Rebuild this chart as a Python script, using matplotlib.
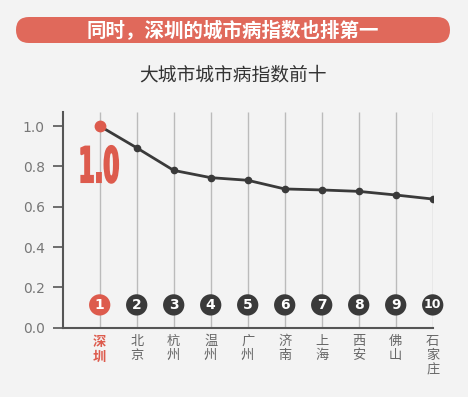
import matplotlib
matplotlib.use('Agg')
import matplotlib.pyplot as plt
from matplotlib.patches import FancyBboxPatch, PathPatch
from matplotlib.textpath import TextPath
from matplotlib.font_manager import FontProperties
from matplotlib.transforms import Affine2D, IdentityTransform

plt.rcParams['font.family'] = ['Noto Sans CJK SC', 'DejaVu Sans']

cities = ['深圳', '北京', '杭州', '温州', '广州', '济南', '上海', '西安', '佛山', '石家庄']
index_values = [1.0, 0.892, 0.780, 0.744, 0.731, 0.688, 0.683, 0.676, 0.658, 0.638]
ranks = ['1', '2', '3', '4', '5', '6', '7', '8', '9', '10']
yticks = [0.0, 0.2, 0.4, 0.6, 0.8, 1.0]
title = '同时，深圳的城市病指数也排第一'
subtitle = '大城市城市病指数前十'

red = '#DD5B4D'
dark = '#3a3a3a'
bg = '#F3F3F3'

W, H = 468, 397
fig = plt.figure(figsize=(W / 100, H / 100), dpi=100, facecolor=bg)
ax = fig.add_axes([62.7 / W, 1 - 327.7 / H, 370 / W, 216 / H], facecolor=bg)

xs = list(range(len(cities)))
ax.set_xlim(-1, len(cities) - 1)
ax.set_ylim(0, 1.071)

# vertical guides
ax.vlines(xs, 0, 1.071, colors='#BBBBBB', linewidth=1, zorder=1)

ax.plot(xs, index_values, color=dark, linewidth=2, marker='o', markersize=4.5, zorder=3)
ax.plot(xs[0], index_values[0], 'o', color=red, markersize=7.5, zorder=4)

# rank badges
badge_y = 0.113
cols = [red] + [dark] * (len(ranks) - 1)
ax.scatter(xs, [badge_y] * len(xs), s=235, c=cols, zorder=4, linewidths=0, clip_on=False)
for x, r in zip(xs, ranks):
    ax.text(x, badge_y, r, ha='center', va='center', color='white',
            fontsize=10 if len(r) == 1 else 9, fontweight='bold', family='DejaVu Sans',
            zorder=5, clip_on=False)

for s in ['top', 'right']:
    ax.spines[s].set_visible(False)
for s in ['left', 'bottom']:
    ax.spines[s].set_color('#555555')
    ax.spines[s].set_linewidth(1.5)

ax.set_yticks(yticks)
ax.set_yticklabels(['%.1f' % v for v in yticks], family='DejaVu Sans', fontsize=10, color='#777777')
ax.tick_params(axis='y', length=7, width=1.2, color='#555555', pad=6)
ax.set_xticks(xs)
ax.set_xticklabels(['\n'.join(c) for c in cities], fontsize=9.5, color='#666666', linespacing=1.15, va='top')
ax.tick_params(axis='x', length=0, pad=5)
first = ax.get_xticklabels()[0]
first.set_color(red)
first.set_fontweight('bold')

# big condensed "1.0" label
fig.canvas.draw()
cx, cy = ax.transData.transform((xs[0], 0.81))
tp = TextPath((0, 0), '%.1f' % index_values[0], size=50,
              prop=FontProperties(family=['Liberation Sans Narrow', 'DejaVu Sans'], weight='bold'))
bb = tp.get_extents()
sx = 37 / bb.width
sy = 37 / bb.height
tr = Affine2D().translate(-bb.x0 - bb.width / 2, -bb.y0 - bb.height / 2).scale(sx, sy).translate(cx, cy)
fig.patches.append(PathPatch(tp, transform=tr + IdentityTransform(), facecolor=red,
                             edgecolor=red, linewidth=1.3, figure=fig))

# title banner
banner = FancyBboxPatch((29, 367), 408, 0, boxstyle='round,pad=13',
                        transform=IdentityTransform(), facecolor='#E0695B', edgecolor='none', figure=fig)
fig.patches.append(banner)
fig.text(233 / W, 1 - 30 / H, title, ha='center', va='center', color='white',
         fontsize=14, fontweight='bold')
fig.text(233 / W, 1 - 75 / H, subtitle, ha='center', va='center', color='#333333', fontsize=13.5)

plt.savefig('out.png', dpi=100, facecolor=bg)
